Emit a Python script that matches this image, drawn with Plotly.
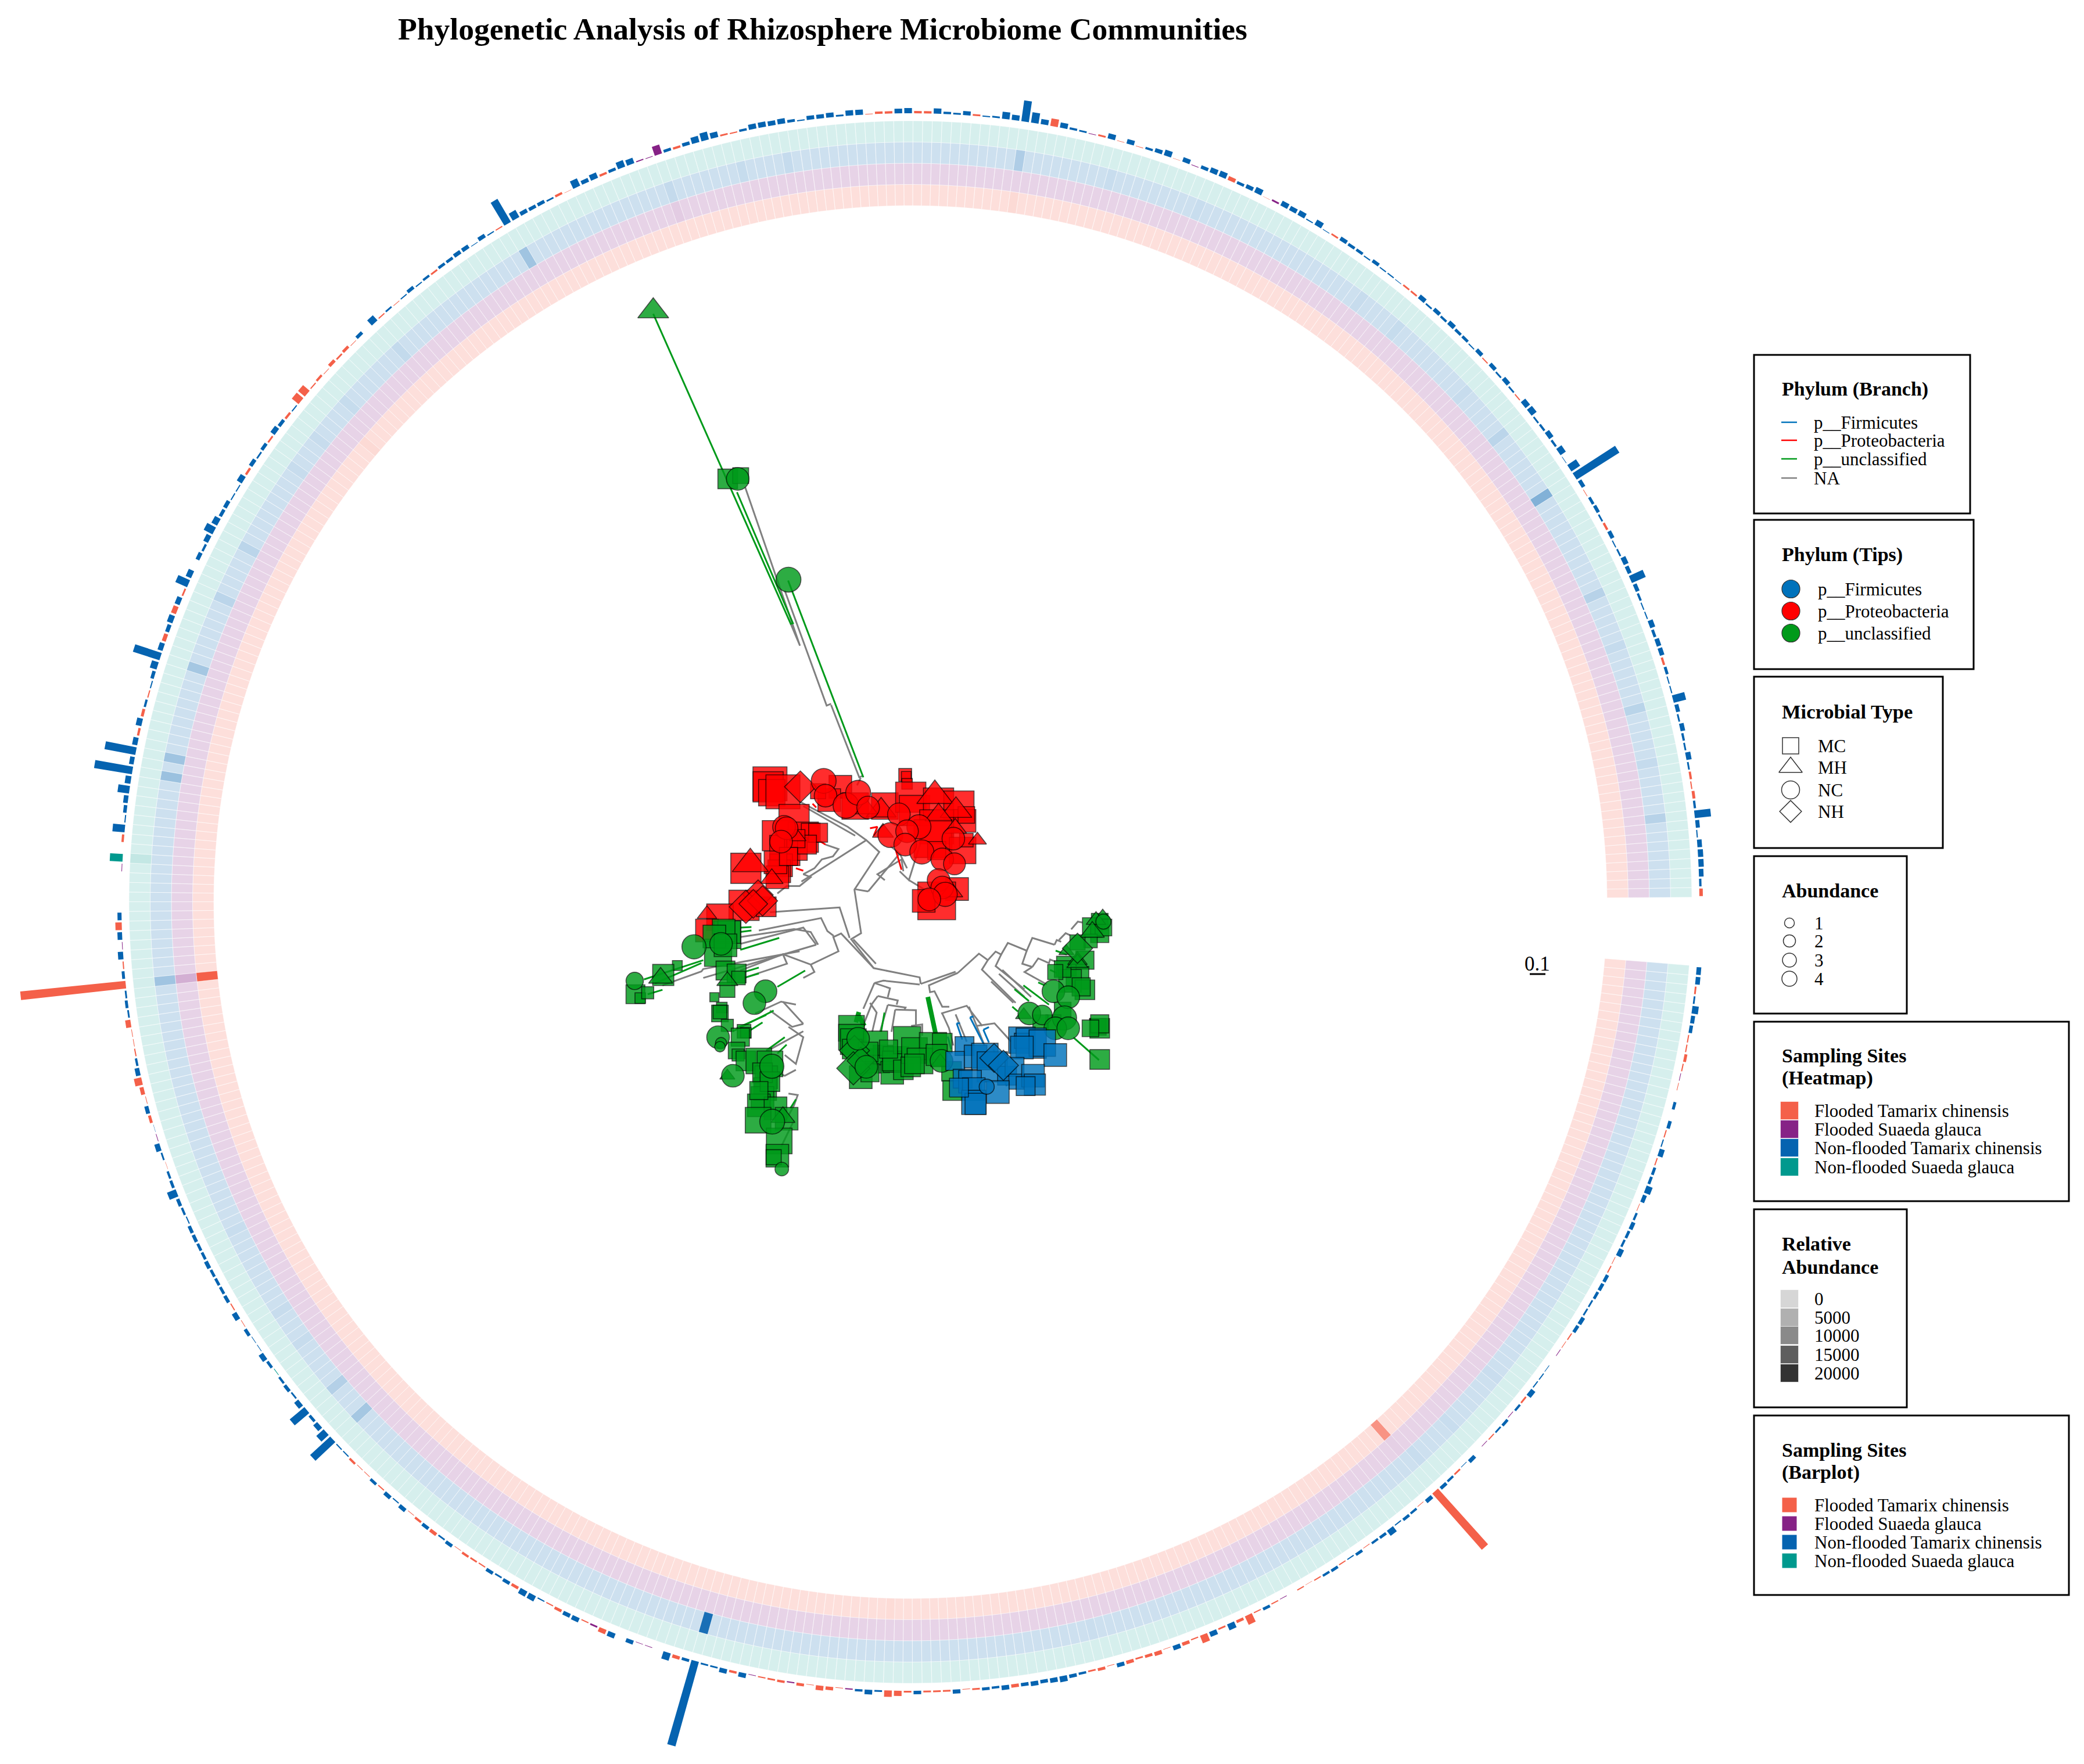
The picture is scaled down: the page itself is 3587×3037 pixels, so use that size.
import plotly.graph_objects as go
import math

FONT = "Liberation Serif"
W, H = 3587, 3037
PAGE_MARGIN = 8   # the browser's default body margin

# ---------- site and phylum names ----------
sites = ["Flooded Tamarix chinensis", "Flooded Suaeda glauca",
         "Non-flooded Tamarix chinensis", "Non-flooded Suaeda glauca"]
site_colors = ["#F46049", "#862286", "#0563B0", "#00998E"]
site_codes = ["R", "P", "B", "T"]
phyla = ["p__Firmicutes", "p__Proteobacteria", "p__unclassified"]
phylum_colors = ["#0072BB", "#FF0000", "#009A1A"]
na_color = "#808080"
microbial_types = ["MC", "MH", "NC", "NH"]
abundance_levels = ["1", "2", "3", "4"]
relative_levels = ["0", "5000", "10000", "15000", "20000"]
relative_greys = ["#D6D6D6", "#B0B0B0", "#8A8A8A", "#5E5E5E", "#333333"]

# ---------- outer bar ring: site code + bar height, clockwise per tip ----------
bars_lower_right = """B8 B8 R3 B3 B11 B7 B6 R2 R2 R5 R2 P1 R1 B0 B5 B0 B6 R2 B2 B9
R2 B5 B5 B11 B7 R1 B4 B7 B5 B4 B9 R1 R2 B6 B6 B5 B3 B3 B7 B6
R2 R1 P1 B0 B1 B2 B2 B9 R3 B4 P1 B5 B3 R2 P1 B0 B7 B1 R3 B4 B6 R129
B7 R1 B4 B5 B2 B11 B5 B4 R1 B5 B2 R2 B5 B4 R2 R0.5 R2 B0 P1 R2 B5 R2""".split()
bars_bottom = """R16 R5 B11 R3 B9 R14 R2 R6 B8 R1 R7 R5 R3 R6 B7 R1 R5 R3 B4 B6
B10 B8 B6 B8 B6 R6 B8 B4 B5 R3 R1 B7 R3 R3 R3 B6 R3 R9 R11 B3
B8 B4 P2 R1 R6 R8 R1 R5 P2 R4 R3 R2 P1 B8 R4 B8 B3 B3 B151
B5 R6 B13 B0 P1 P1 B7 B0 B9 R8 P3 R2 B8 B7 R5 R2 B2 B10 B10 R5""".split()
bars_lower_left = """B6 B3 B6 R2 R3 R4 R1 B6 B3 R6 B6 R4 R1 B7 B2 B7 R2 B5 R1
R1 R4 B2 B2 B47 B17 B9 B5 B33 B9 B3 B6 B4 T1 B5 B9 B1 B1 B6 R1
B9 R2 B6 B5 B5 B5 B7 B5 B5 B6 B6 B2 B4 B6 B16 B5 B4 R0.5 B3 B9 P1 B0.5
R5 B7 R1 R7 R13 B8 B4 R2 R1 R1 R9 B3 B5 B3 R182""".split()
bars_upper_left = """B5 R2 B9 P1 B8 R11 B7 B0 B0 B0 B0 P1 T22 B0 R4 B21 B2 B6 B8 B20
B10 B66 B8 B54 B9 R4 B10 R5 B4 R2 B2 B6 B12 B48 B9 R7 B7 B10 R9 B9
R3 B22 B10 B0 B7 B4 B9 B17 B11 B6 B7 B2 B2 B10 R4 B7 B3 B6 R3 B9
B6 R4 B2 R15 R15 R2 R4 R1 R6 R3 R5 R1 B6 B0 B12 R2 B3 R1 B2 B6
B2 B4 R3 B5 B5 B7 B7 B1 B7 B2 R2 B46 B14 B7 B6 B6 B3""".split()
bars_top = """R4 R0.5 B14 B7 B10 R4 B5 B12 B10 P2 P1 P16 B5 R4 B6 B11 B14 B10 R3 R2
B4 B9 B9 B8 B9 B5 B2 B7 B7 B8 B3 B9 B9 R1 R4 R4 B8 B9 R4 R4
B9 B4 B3 B7 R3 B2 B3 B12 B9 B36 B18 B9 R13 B9 B4 B3 P1 R3 B9 R1
B8 R1 B4 B7 B10 R0.5 B8 P1 B6 B9 B10 R7 B5 B7 B10 R0.5 P3 B9 B8 B9 B2 B10""".split()
bars_upper_right = """B1 R3 B7 B5 B5 B2 B6 B2 B2 B1 R3 R3 B8 B3 B7 B4 B8 B5 B5 B2
B7 R2 B7 B3 B8 B3 R2 B10 B11 B3 B4 B9 B4 B11 B1 B18 B87 B7 R1 B5
B6 B3 R4 B7 B2 B3 B9 B7 B26 B7 B4 B2 B2 B9 B5 B8 B8 R4 B5 B2
B2 B22 B7 B3 B8 B4 B3 B9 B3 R4 R2 R5 B4 B28 B7 B2 B8 B9 B9 B8 B4 R6""".split()

# ---------- heat rings: relative abundance of the tips that stand out ----------
heat_flooded_tamarix = {61: 12000, 238: 20000, 303: 800, 385: 800, 122: 500}
heat_flooded_suaeda = {238: 4000, 347: 800, 61: 300}
heat_nonflooded_tamarix = {142: 18000, 238: 4500, 186: 4000, 190: 2500, 262: 4500, 260: 5000,
                           272: 4000, 286: 1800, 280: 1800, 330: 4500, 385: 3000, 454: 7500,
                           466: 2200, 479: 2000, 491: 2200, 446: 1800, 313: 1000, 347: 900,
                           305: 700, 300: 600, 296: 600, 355: 700, 360: 800, 395: 500,
                           405: 500, 425: 600, 430: 700, 440: 600, 472: 800, 485: 800,
                           196: 600, 200: 600, 210: 500, 60: 500, 55: 500, 48: 400, 100: 300}
heat_nonflooded_suaeda = {251: 1800, 238: 200}

# ---------- tree branches (tree layout units) ----------
branches_gray = [
 [(917,870),(914,848),(790,817),(729,719),(756,699),(738,552),(805,425),(770,385),(695,445),(595,525)],
 [(796,802),(735,720)], [(790,817),(702,700),(681,712),(695,760),(620,805),(630,830),(600,850)],
 [(725,715),(698,612),(510,628)], [(682,708),(665,692),(648,648),(480,690)],
 [(635,738),(600,680),(430,735)], [(640,738),(620,695),(575,685),(430,712)], [(635,738),(330,850)],
 [(590,760),(330,820),(325,828),(220,875)], [(620,805),(545,770),(430,825)], [(545,770),(556,802),(440,850)],
 [(580,940),(540,930),(470,970)], [(600,1005),(545,930)], [(600,1030),(585,1040),(505,1095)],
 [(560,1015),(600,1050),(580,1140),(550,1110)], [(580,1160),(550,1180),(530,1170)],
 [(560,1240),(585,1245),(575,1280),(540,1360)], [(575,1330),(540,1420)], [(600,1005),(570,1015),(510,960)],
 [(917,870),(1011,829)], [(1017,833),(939,875),(942,898),(954,895),(975,947),(994,947)],
 [(1017,833),(1074,768),(1098,790),(1119,761),(1134,771),(1152,732),(1203,758),(1218,715),(1278,738)],
 [(1098,790),(1082,822),(1173,934)], [(1134,771),(1119,810),(1197,888)], [(1203,758),(1191,802),(1218,813)],
 [(1218,813),(1197,830),(1257,872)], [(1218,813),(1234,784),(1263,800),(1266,788),(1281,795)],
 [(1278,738),(1284,722),(1296,728)], [(1290,722),(1308,699),(1320,706)], [(1323,686),(1341,660),(1353,663)],
 [(1107,862),(1167,934)], [(1128,836),(1197,914)], [(1137,823),(1215,914)],
 [(914,872),(816,859),(792,867),(834,885),(828,915)], [(792,867),(762,954)],
 [(801,911),(855,926),(852,940)], [(801,911),(784,940),(759,1019)], [(828,941),(876,950),(873,957)],
 [(828,941),(807,1032)], [(848,957),(904,959),(904,1012)], [(848,957),(838,1032)],
 [(891,1012),(921,1007),(921,1045)], [(780,934),(798,967),(786,1032)],
 [(972,970),(1026,950),(1041,944),(1083,1012)], [(975,970),(993,1019),(1005,1078)], [(1011,973),(1041,1065)],
 [(1047,947),(1089,1078)], [(1068,1012),(1116,1003),(1161,1065)],
 [(443,-806),(591,-271),(566,-345)], [(550,-457),(663,-69),(675,-75)], [(675,-71),(751,173),(762,167)], [(755,175),(745,200)],
 [(775,558),(860,430),(835,405)], [(737,550),(775,558)], [(820,520),(800,500),(865,450),(870,490)],
 [(860,490),(885,520),(920,380)], [(885,520),(945,565)], [(860,430),(880,480)],
 [(770,385),(720,340),(590,255)], [(740,370),(600,270)],
 [(530,565),(555,540),(590,540),(620,510),(600,500),(630,480),(650,450),(680,440),(695,415),(660,400)],
]
branches_red = [[(780,345),(800,340),(790,370)], [(850,420),(865,485)], [(640,385),(660,400)], [(580,480),(600,488)], [(625,262),(635,275)]]
branches_blue = [[(1014,1003),(1029,1058)], [(1014,1003),(1023,1003)], [(1050,983),(1086,1071)], [(1050,983),(1059,980)],
                 [(1086,1025),(1101,1068)], [(1086,1025),(1101,1016)], [(990,1048),(999,1091)], [(1113,1091),(1149,1215)]]
branches_green = [
 [(195,-1391),(566,-345),(572,-347),(421,-789)], [(559,-491),(762,173)],
 [(1170,888),(1209,928)], [(1194,875),(1263,940)], [(1234,865),(1251,875)], [(1266,823),(1284,833)], [(1281,758),(1311,771)],
 [(1164,947),(1179,963)], [(1329,1051),(1398,1127)], [(819,967),(810,1032)],
 [(430,680),(460,678)], [(430,695),(460,690)], [(535,715),(430,755)], [(330,790),(170,855)], [(325,800),(200,868)], [(220,890),(180,905)],
 [(605,825),(530,880)], [(520,960),(410,1030)], [(500,975),(420,1020)], [(490,1000),(440,1040)],
 [(550,1050),(500,1095)], [(555,1075),(530,1105)], [(580,1260),(565,1290)], [(440,830),(480,815)], [(440,850),(480,835)],
]
branches_green_thick = [[(936,914),(957,1038)], [(747,973),(765,1012)], [(750,965),(742,1000)]]

# ---------- tips (tree layout units, relative marker width) ----------
red_square_x = [510,505,515,545,700,820,670,740,875,878,880,890,900,965,1020,1035,960,950,1030,1015,960,925,575,530,600,620,640,550,580,610,540,535,445,530,525,440,375,340,
                960,580,560,1040,1040,640,500]
red_square_y = [195,205,225,222,205,270,250,270,165,170,195,240,285,260,270,320,340,380,420,550,590,590,315,370,375,360,360,420,415,400,470,490,480,510,460,605,645,690,
                420,380,440,385,300,220,610]
red_square_w = [45,40,35,45,30,35,30,35,17,13,14,40,40,40,40,30,45,50,35,30,50,30,40,40,40,25,25,40,30,25,30,30,40,30,30,40,35,30,
                24,24,24,18,22,20,26]
red_triangle_x = [810,770,955,1012,965,1010,1070,1000,815,585,457,515,340]
red_triangle_y = [285,280,235,285,300,345,385,560,360,375,465,515,635]
red_triangle_w = [40,30,48,42,36,30,24,30,28,22,48,30,26]
red_diamond_x = [592,478,445,490,465]
red_diamond_y = [205,570,610,590,600]
red_diamond_w = [42,40,44,40,38]
red_circle_x = [655,660,715,748,775,858,835,912,880,875,920,1005,975,1008,965,975,983,940,548,555,540]
red_circle_y = [185,235,268,225,275,298,368,340,355,400,425,380,450,465,520,545,568,585,340,345,390]
red_circle_w = [33,30,34,33,30,30,33,32,30,30,32,30,30,29,30,30,32,30,30,30,30]

blue_square_x = [1035,1010,1065,1090,1110,1150,1190,1190,1215,1245,1280,1190,1170,1175,1220,1225,1200,1030,1050,1060,1125,1060,1065,1020]
blue_square_y = [1080,1130,1115,1115,1150,1180,1060,1062,1070,1070,1110,1085,1150,1200,1180,1210,1215,1190,1200,1225,1235,1270,1275,1220]
blue_square_w = [25,25,30,35,40,25,35,20,40,35,30,30,25,20,30,28,25,25,30,30,30,32,28,25]
blue_diamond_x = [1115,1140]
blue_diamond_y = [1120,1145]
blue_diamond_w = [38,40]
blue_circle_x = [1095]
blue_circle_y = [1217]
blue_circle_w = [20]

green_square_x = [396,431,395,400,385,370,360,390,260,222,147,160,180,390,420,425,395,360,380,375,395,375,440,445,430,420,424,445,480,510,500,497,490,480,525,478,555,535,530,520,
                  730,730,735,732,755,800,815,795,840,850,840,870,880,900,950,915,890,975,1000,1003,
                  1400,1380,1400,1410,1375,1360,1310,1340,1320,1360,1395,1400,1400,1375,1400,
                  1300,1340,1350,1280,1300,1275,1240,775,960,830,900,780,490,510,480]
green_square_y = [-834,-845,705,695,690,765,710,740,808,840,905,918,900,825,835,850,890,915,950,970,1010,965,1030,1035,1050,1095,1110,1130,1130,1140,1185,1225,1255,1280,1290,1330,1325,1400,1450,1455,
                  1020,1050,1065,1090,1185,1130,1110,1070,1170,1125,1130,1160,1060,1095,1080,1130,1150,1070,1165,1230,
                  660,680,700,680,725,790,810,850,860,890,1015,1020,1005,1020,1125,
                  820,730,880,830,960,1000,1000,1100,1110,1090,1140,1170,1170,1200,1230]
green_square_w = [26,21,36,30,30,36,30,30,13,28,25,14,16,25,25,18,20,12,14,22,16,18,18,14,24,22,16,26,34,34,30,30,30,30,30,34,30,34,30,20,
                  34,34,34,26,30,32,26,32,30,34,26,26,36,34,36,34,26,26,26,26,
                  22,26,24,22,18,24,26,30,30,26,22,26,24,22,26,
                  22,20,24,20,22,20,20,26,28,24,26,24,26,26,24]
green_triangle_x = [195,215,395,395,545,970,1408,1390,1380,1340,1340,1195,1310]
green_triangle_y = [-1400,850,860,1180,1320,1135,640,655,695,790,800,975,760]
green_triangle_w = [41,32,28,20,32,26,20,26,32,26,28,22,20]
green_diamond_x = [738,735,755,1340]
green_diamond_y = [1095,1155,1130,750]
green_diamond_w = [40,44,36,40]
green_circle_x = [423,560,305,378,145,498,468,370,378,375,515,410,516,542,748,770,973,1410,1275,1315,1210,1245,1305,1280,1315]
green_circle_y = [-834,-494,745,735,860,895,935,1050,1070,1082,1148,1180,1335,1495,1055,1150,1130,660,895,915,970,975,985,1020,1020]
green_circle_w = [30,33,32,30,23,30,30,30,15,14,32,30,33,18,30,30,30,20,30,30,30,26,32,30,30]

# ---------- layout constants ----------
CX, CY = 1567, 1553
RING_IN, RING_STEP = 1199, 36.5
BAR_BASE = 1358
START_DEG, STEP_DEG = 4.65, 0.71
ring_alpha = [0.2, 0.2, 0.2, 0.16]
TIP_SCALE = 1.3
symbol_scale = {"square": 1.0, "triangle-up": 1 / 1.155, "diamond": 1 / 1.3, "circle": 1.0}


def rgba(hex_color, a):
    h = hex_color.lstrip("#")
    return f"rgba({int(h[:2],16)},{int(h[2:4],16)},{int(h[4:6],16)},{a:.3f})"


def sector(i, r0, r1, frac, xs, ys):
    mid = START_DEG + (i + 0.5) * STEP_DEG
    half = STEP_DEG * frac / 2
    for r, d in ((r0, mid - half), (r1, mid - half), (r1, mid + half), (r0, mid + half), (r0, mid - half)):
        xs.append(CX + r * math.cos(math.radians(d)))
        ys.append(CY + r * math.sin(math.radians(d)))
    xs.append(None)
    ys.append(None)


fig = go.Figure()

# ----- heat rings -----
bar_tokens = bars_lower_right + bars_bottom + bars_lower_left + bars_upper_left + bars_top + bars_upper_right
bar_sites = [t[0] for t in bar_tokens]
bar_values = [float(t[1:]) for t in bar_tokens]
n_tips = len(bar_tokens)

heat_rings = [heat_flooded_tamarix, heat_flooded_suaeda, heat_nonflooded_tamarix, heat_nonflooded_suaeda]
for k, heat in enumerate(heat_rings):
    groups = {}
    for i in range(n_tips):
        groups.setdefault(heat.get(i, 0), []).append(i)
    for v, idx in sorted(groups.items()):
        xs, ys = [], []
        for i in idx:
            sector(i, RING_IN + k * RING_STEP, RING_IN + (k + 1) * RING_STEP, 1.0, xs, ys)
        a = ring_alpha[k] + (1 - ring_alpha[k]) * min(1, v / 20000)
        fig.add_trace(go.Scatter(x=xs, y=ys, mode="lines", fill="toself", fillcolor=rgba(site_colors[k], a),
                                 line=dict(color="rgba(255,255,255,0.5)", width=1),
                                 name=f"{sites[k]} heat {v}", hoverinfo="skip", showlegend=False))

# ----- bars -----
for code, name, color in zip(site_codes, sites, site_colors):
    xs, ys = [], []
    for i in range(n_tips):
        if bar_sites[i] == code and bar_values[i] > 0:
            sector(i, BAR_BASE, BAR_BASE + bar_values[i], 0.78, xs, ys)
    fig.add_trace(go.Scatter(x=xs, y=ys, mode="lines", fill="toself", fillcolor=color, line=dict(width=0),
                             name=name + " bar", hoverinfo="skip", showlegend=False))


# ----- tree, on its own overlaid axes -----
def add_branches(polys, color, width, name):
    xs, ys = [], []
    for p in polys:
        xs += [q[0] for q in p] + [None]
        ys += [q[1] for q in p] + [None]
    fig.add_trace(go.Scatter(x=xs, y=ys, xaxis="x2", yaxis="y2", mode="lines", name=name,
                             line=dict(color=color, width=width), hoverinfo="skip", showlegend=False))


add_branches(branches_gray, na_color, 3, "NA")
add_branches(branches_red, phylum_colors[1], 3, phyla[1])
add_branches(branches_blue, phylum_colors[0], 3, phyla[0])
add_branches(branches_green, phylum_colors[2], 3, phyla[2])
add_branches(branches_green_thick, phylum_colors[2], 8, phyla[2])

tip_groups = [
    (phyla[1], phylum_colors[1], "square", red_square_x, red_square_y, red_square_w),
    (phyla[1], phylum_colors[1], "triangle-up", red_triangle_x, red_triangle_y, red_triangle_w),
    (phyla[1], phylum_colors[1], "diamond", red_diamond_x, red_diamond_y, red_diamond_w),
    (phyla[1], phylum_colors[1], "circle", red_circle_x, red_circle_y, red_circle_w),
    (phyla[2], phylum_colors[2], "square", green_square_x, green_square_y, green_square_w),
    (phyla[2], phylum_colors[2], "triangle-up", green_triangle_x, green_triangle_y, green_triangle_w),
    (phyla[2], phylum_colors[2], "diamond", green_diamond_x, green_diamond_y, green_diamond_w),
    (phyla[2], phylum_colors[2], "circle", green_circle_x, green_circle_y, green_circle_w),
    (phyla[0], phylum_colors[0], "square", blue_square_x, blue_square_y, blue_square_w),
    (phyla[0], phylum_colors[0], "diamond", blue_diamond_x, blue_diamond_y, blue_diamond_w),
    (phyla[0], phylum_colors[0], "circle", blue_circle_x, blue_circle_y, blue_circle_w),
]
for name, color, sym, tx, ty, tw in tip_groups:
    fig.add_trace(go.Scatter(x=tx, y=ty, xaxis="x2", yaxis="y2", mode="markers", name=name,
                             marker=dict(symbol=sym, size=[w * TIP_SCALE * symbol_scale[sym] for w in tw], color=color, opacity=0.82,
                                         line=dict(color="rgba(0,0,0,0.8)", width=1.6)),
                             hoverinfo="skip", showlegend=False))

# ----- legends -----
annotations, shapes = [], []


def label(x, y, text, size=31, bold=False):
    annotations.append(dict(x=x, y=y, xref="x", yref="y", text=f"<b>{text}</b>" if bold else text, showarrow=False,
                            xanchor="left", yanchor="middle", font=dict(family=FONT, size=size, color="black")))


def box(x0, y0, x1, y1):
    shapes.append(dict(type="rect", xref="x", yref="y", x0=x0, y0=y0, x1=x1, y1=y1, line=dict(color="black", width=3)))


def key(x, y, sym, size, color, line_color, line_width):
    fig.add_trace(go.Scatter(x=[x], y=[y], mode="markers", showlegend=False, hoverinfo="skip",
                             marker=dict(symbol=sym, size=size, color=color, line=dict(color=line_color, width=line_width))))


# Phylum (Branch)
box(3019, 611, 3391, 884)
label(3065, 670, "Phylum (Branch)", 34, True)
for t, y, c in zip(phyla + ["NA"], [727, 758, 790, 823], phylum_colors + [na_color]):
    fig.add_trace(go.Scatter(x=[3066, 3093], y=[y, y], mode="lines", line=dict(color=c, width=2.5),
                             showlegend=False, hoverinfo="skip"))
    label(3120, y, t)

# Phylum (Tips)
box(3019, 895, 3397, 1152)
label(3065, 955, "Phylum (Tips)", 34, True)
for t, y, c in zip(phyla, [1014, 1052, 1090], phylum_colors):
    key(3082.5, y, "circle", 31, c, "#333333", 1.2)
    label(3127, y, t)

# Microbial Type
box(3019, 1165, 3344, 1460)
label(3065, 1225, "Microbial Type", 34.5, True)
for t, y, s, z in zip(microbial_types, [1284, 1321, 1360, 1397], ["square", "triangle-up", "circle", "diamond"], [28, 35, 31, 29]):
    key(3082, y, s, z, "rgba(0,0,0,0)", "#333333", 1.5)
    label(3127, y, t)

# Abundance
box(3019, 1474, 3282, 1745)
label(3065, 1533, "Abundance", 34, True)
for t, y, z in zip(abundance_levels, [1589, 1620, 1653, 1685], [17, 21, 24, 26]):
    key(3080, y, "circle", z, "rgba(0,0,0,0)", "#333333", 1.5)
    label(3121, y, t)

# Sampling Sites (Heatmap)
box(3019, 1759, 3561, 2068)
label(3065, 1817, "Sampling Sites", 34, True)
label(3065, 1856, "(Heatmap)", 34, True)
for t, y, c in zip(sites, [1912, 1944, 1976, 2009], site_colors):
    key(3080, y, "square", 31, c, "rgba(255,255,255,0.6)", 1)
    label(3121, y, t)

# Relative Abundance
box(3019, 2082, 3282, 2423)
label(3065, 2141, "Relative", 34, True)
label(3065, 2181, "Abundance", 34, True)
for t, y, c in zip(relative_levels, [2236, 2268, 2299, 2332, 2364], relative_greys):
    key(3080, y, "square", 31, c, "rgba(255,255,255,0.6)", 1)
    label(3121, y, t)

# Sampling Sites (Barplot)
box(3019, 2437, 3561, 2746)
label(3065, 2496, "Sampling Sites", 34, True)
label(3065, 2535, "(Barplot)", 34, True)
for t, y, c in zip(sites, [2591, 2623, 2655, 2687], site_colors):
    key(3080, y, "square", 25, c, "rgba(0,0,0,0)", 0)
    label(3121, y, t)

# Tree scale
label(2622, 1659, "0.1", 35)
fig.add_trace(go.Scatter(x=[2633, 2660], y=[1677, 1677], mode="lines", line=dict(color="black", width=3),
                         showlegend=False, hoverinfo="skip"))

# The page keeps its default margin, so the canvas is inset on every side.
X0, X1 = PAGE_MARGIN, W - PAGE_MARGIN
Y0, Y1 = PAGE_MARGIN, H - PAGE_MARGIN
CW, CH = X1 - X0, Y1 - Y0
hidden = dict(visible=False, showgrid=False, zeroline=False, fixedrange=True)
fig.update_layout(
    width=CW, height=CH, autosize=False, margin=dict(l=0, r=0, t=0, b=0),
    paper_bgcolor="white", plot_bgcolor="white", showlegend=False,
    title=dict(text="<b>Phylogenetic Analysis of Rhizosphere Microbiome Communities</b>",
               x=(1416 - X0) / CW, y=1 - (49 - Y0) / CH, xanchor="center", yanchor="middle",
               font=dict(family=FONT, size=53.5, color="black")),
    xaxis=dict(range=[X0, X1], domain=[0, 1], **hidden),
    yaxis=dict(range=[Y1, Y0], domain=[0, 1], **hidden),
    xaxis2=dict(range=[(X0 - 1000) * 1.568, (X1 - 1000) * 1.568], overlaying="x", domain=[0, 1], **hidden),
    yaxis2=dict(range=[(Y1 - 1250) * 1.96, (Y0 - 1250) * 1.96], overlaying="y", domain=[0, 1], **hidden),
    annotations=annotations, shapes=shapes,
)
fig.write_html("out.html")
